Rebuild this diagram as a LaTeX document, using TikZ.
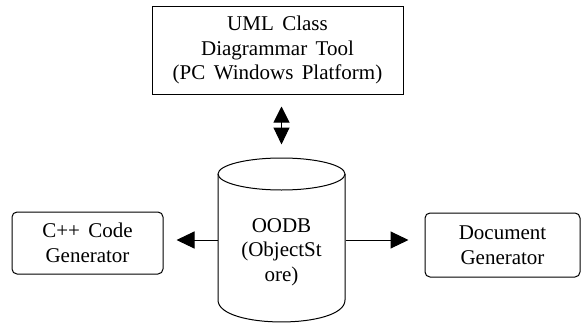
\documentclass[tikz,border=0pt]{standalone}
\usepackage{fontspec}
\setmainfont[WordSpace=1.6]{Liberation Serif}
\usetikzlibrary{arrows.meta,calc}
\begin{document}
\begin{tikzpicture}[x=1pt,y=-1pt,line width=1pt,
  txt/.style={font=\fontsize{21}{24.5}\selectfont, align=center, inner sep=0pt},
  topbox/.style={draw, txt, minimum width=251pt, minimum height=88pt},
  sidebox/.style={draw, txt, rounded corners=5pt, minimum width=151pt, minimum height=62pt},
  tip/.style={-{Triangle[length=18pt,width=17pt]}},
  dtip/.style={{Triangle[length=16pt,width=16pt]}-{Triangle[length=17pt,width=16pt]}}]
\useasboundingbox (0,0) rectangle (581,324);
\node[topbox] (uml) at (277.5,50) {UML Class\\Diagrammar Tool\\(PC Windows Platform)};
\node[sidebox] (cpp) at (87.5,243) {C++ Code\\Generator};
\node[sidebox, minimum width=155pt, minimum height=64pt] (doc) at (502.5,245) {Document\\Generator};
% cylinder body
\node[minimum width=127pt, minimum height=164pt, inner sep=0pt] (db) at (281.5,240) {};
\draw (281.5,174) ellipse [x radius=63.5pt, y radius=16pt];
\draw (218,174) -- (218,300) .. controls (218,329.3) and (345,329.3) .. (345,300) -- (345,174);
\node[txt] (dbt) at (281.5,252) {OODB\\(ObjectSt\\ore)};
% connectors
\draw[dtip, shorten <=12pt, shorten >=13pt] (uml.south -| db.north) -- (db.north);
\draw[tip, shorten >=13pt] (db.west) -- (cpp.east |- db.west);
\draw[tip, shorten >=16pt] (db.east) -- (doc.west |- db.east);
\end{tikzpicture}
\end{document}
